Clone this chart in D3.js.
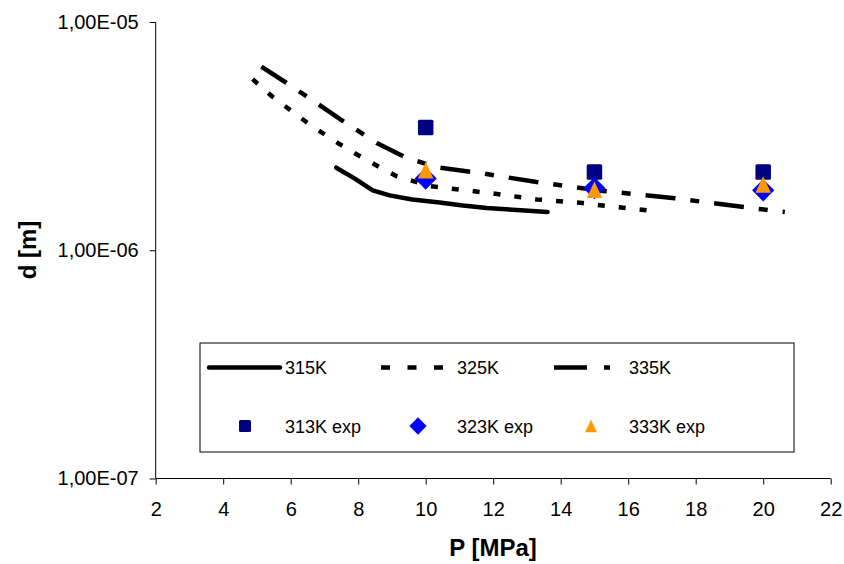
<!DOCTYPE html>
<html>
<head>
<meta charset="utf-8">
<script src="https://cdn.jsdelivr.net/npm/d3@7"></script>
<style>
  html, body { margin: 0; padding: 0; background: #fff; }
  svg { display: block; font-family: "Liberation Sans", Arial, sans-serif; }
</style>
</head>
<body>
<svg id="chart" width="844" height="564"></svg>
<script>
// ---- data ----
const xTicks = [2, 4, 6, 8, 10, 12, 14, 16, 18, 20, 22];
const yTicks = [1e-7, 1e-6, 1e-5];
const yTickLabels = ["1,00E-07", "1,00E-06", "1,00E-05"];

const line315P = [7.35, 7.9, 8.43, 8.93, 9.6, 10.41, 11.1, 11.81, 12.7, 13.61];
const line315D = [2.30e-6, 2.06e-6, 1.83e-6, 1.74e-6, 1.67e-6, 1.62e-6, 1.57e-6, 1.53e-6, 1.50e-6, 1.47e-6];

const line325P = [4.87, 5.47, 6.0, 6.5, 7.3, 7.9, 8.73, 9.14, 10.12, 11.9, 13.29, 14.65, 15.39, 16.84];
const line325D = [5.62e-6, 4.69e-6, 4.10e-6, 3.61e-6, 3.01e-6, 2.66e-6, 2.27e-6, 2.11e-6, 1.91e-6, 1.78e-6, 1.67e-6, 1.61e-6, 1.56e-6, 1.48e-6];

const line335P = [5.13, 5.8, 6.41, 7.6, 8.55, 9.38, 10.33, 11.6, 13.29, 15.24, 17.38, 19.51, 20.64];
const line335D = [6.37e-6, 5.50e-6, 4.79e-6, 3.64e-6, 2.95e-6, 2.56e-6, 2.31e-6, 2.18e-6, 1.99e-6, 1.82e-6, 1.69e-6, 1.54e-6, 1.47e-6];

const expP = [10, 15, 20];
const exp313 = [3.45e-6, 2.20e-6, 2.20e-6];
const exp323 = [2.06e-6, 1.87e-6, 1.83e-6];
const exp333 = [2.24e-6, 1.84e-6, 1.94e-6];

const lineNames = ["315K", "325K", "335K"];
const expNames = ["313K exp", "323K exp", "333K exp"];

// ---- layout ----
const svg = d3.select("#chart");
const x = d3.scaleLinear().domain([2, 22]).range([155.7, 830.7]);
const y = d3.scaleLog().domain([1e-7, 1e-5]).range([478.5, 22]);

// axes
const xAxis = d3.axisBottom(x).tickValues(xTicks).tickSize(6).tickPadding(17).tickFormat(d3.format("d"));
const gx = svg.append("g").attr("transform", "translate(0,478.5)").call(xAxis);
gx.select(".domain").attr("stroke", "#000").attr("d", "M155.7,0H830.7");
gx.selectAll(".tick line").attr("stroke", "#000");
gx.selectAll("text").attr("font-size", 20).attr("fill", "#000").attr("font-family", "Liberation Sans, Arial, sans-serif");

const yAxis = d3.axisLeft(y).tickValues(yTicks).tickSize(6).tickPadding(11)
  .tickFormat((d, i) => yTickLabels[i]);
const gy = svg.append("g").attr("transform", "translate(155.7,0)").call(yAxis);
gy.select(".domain").attr("stroke", "#000").attr("d", "M0,22V478.5");
gy.selectAll(".tick line").attr("stroke", "#000");
gy.selectAll("text").attr("font-size", 20).attr("fill", "#000").attr("font-family", "Liberation Sans, Arial, sans-serif");

// titles
svg.append("text").attr("x", 493).attr("y", 556).attr("text-anchor", "middle")
  .attr("font-size", 24).attr("font-weight", "bold").text("P [MPa]");
svg.append("text").attr("transform", "translate(36,250) rotate(-90)").attr("text-anchor", "middle")
  .attr("font-size", 24).attr("font-weight", "bold").text("d [m]");

// lines
const lineGen = d3.line().x(d => x(d[0])).y(d => y(d[1]));
const lineStyles = [
  { dash: null, cap: "round" },
  { dash: "7,14", cap: "butt" },
  { dash: "30,15,9,15", cap: "butt" }
];
const lineData = [
  d3.zip(line315P, line315D),
  d3.zip(line325P, line325D),
  d3.zip(line335P, line335D)
];
lineData.forEach((ld, i) => {
  svg.append("path").datum(ld).attr("d", lineGen)
    .attr("fill", "none").attr("stroke", "#000").attr("stroke-width", 4.5)
    .attr("stroke-linecap", lineStyles[i].cap).attr("stroke-linejoin", "round")
    .attr("stroke-dasharray", lineStyles[i].dash);
});

// markers
const expColors = ["#000080", "#0000FF", "#FF9900"];
const expData = [d3.zip(expP, exp313), d3.zip(expP, exp323), d3.zip(expP, exp333)];
function drawMarker(g, type, cx, cy, s) {
  if (type === 0) {
    g.append("rect").attr("x", cx - s / 2).attr("y", cy - s / 2).attr("width", s).attr("height", s)
      .attr("rx", 1.5).attr("fill", expColors[0]);
  } else if (type === 1) {
    const h = s * 0.72;
    g.append("path").attr("d", `M${cx},${cy - h}L${cx + h},${cy}L${cx},${cy + h}L${cx - h},${cy}Z`)
      .attr("fill", expColors[1]);
  } else {
    const w = s / 2, hh = s * 0.53;
    g.append("path").attr("d", `M${cx},${cy - hh}L${cx + w},${cy + hh}L${cx - w},${cy + hh}Z`)
      .attr("fill", expColors[2]);
  }
}
const gm = svg.append("g");
expData.forEach((ed, i) => {
  ed.forEach(d => drawMarker(gm, i, x(d[0]), y(d[1]), 15.5));
});

// legend
const lg = svg.append("g");
lg.append("rect").attr("x", 200).attr("y", 343).attr("width", 594).attr("height", 109)
  .attr("fill", "#fff").attr("stroke", "#000").attr("stroke-width", 1);
const legX = [[209, 280, 285], [381, 444, 457], [554, 610, 629]];
const legDash = [null, "9,17.5", "33,17,6,17"];
lineNames.forEach((n, i) => {
  lg.append("line").attr("x1", legX[i][0]).attr("x2", legX[i][1]).attr("y1", 367.5).attr("y2", 367.5)
    .attr("stroke", "#000").attr("stroke-width", 4.5)
    .attr("stroke-linecap", i === 0 ? "round" : "butt")
    .attr("stroke-dasharray", legDash[i]);
  lg.append("text").attr("x", legX[i][2]).attr("y", 374).attr("font-size", 18).text(n);
});
const legMX = [245, 418, 591];
expNames.forEach((n, i) => {
  drawMarker(lg, i, legMX[i], 426, 12);
  lg.append("text").attr("x", legX[i][2]).attr("y", 432.5).attr("font-size", 18).text(n);
});
</script>
</body>
</html>
